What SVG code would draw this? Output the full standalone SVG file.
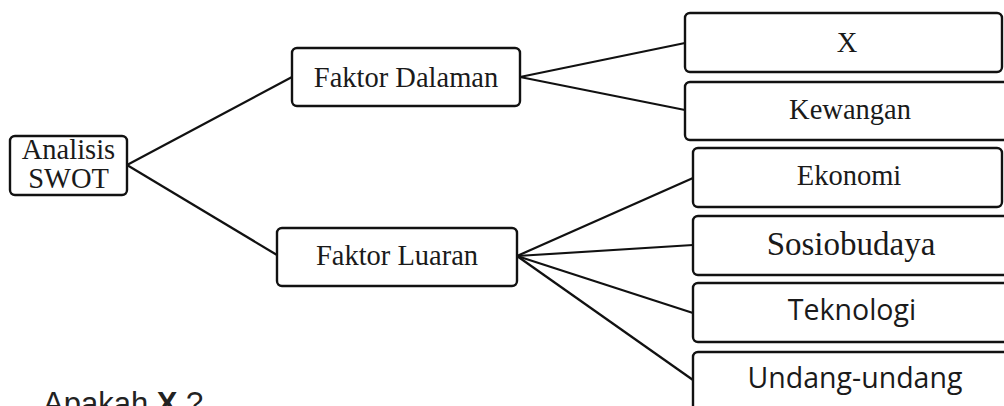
<svg xmlns="http://www.w3.org/2000/svg" width="1004" height="406" viewBox="0 0 1004 406">
<style>
.box{fill:#fff;stroke:#111;stroke-width:2.4}
.ln{stroke:#111;stroke-width:2.2;fill:none}
.tm{font-family:"Liberation Serif","Times New Roman",serif;font-size:28.5px;fill:#1a1a1a;text-anchor:middle}
.sv{font-family:"Liberation Serif",serif;font-size:33px;fill:#1a1a1a;text-anchor:middle}
.sn{font-family:"Open Sans","Liberation Sans",sans-serif;font-size:28.5px;fill:#1a1a1a;text-anchor:middle}
.q{font-family:"Liberation Sans",Arial,sans-serif;font-size:31px;fill:#222}
</style>
<rect width="1004" height="406" fill="#fff"/>
<g id="connectors">
<line class="ln" x1="127" y1="165" x2="292" y2="77"/>
<line class="ln" x1="127" y1="165" x2="277" y2="255"/>
<line class="ln" x1="520" y1="77" x2="685" y2="43"/>
<line class="ln" x1="520" y1="77" x2="685" y2="110"/>
<line class="ln" x1="517" y1="256" x2="693" y2="178"/>
<line class="ln" x1="517" y1="256" x2="693" y2="245"/>
<line class="ln" x1="517" y1="256" x2="693" y2="313"/>
<line class="ln" x1="517" y1="256" x2="693" y2="380"/>
</g>
<g id="analisis">
<rect class="box" x="10" y="136" width="117" height="59" rx="5"/>
<text class="tm" x="68.5" y="159">Analisis</text>
<text class="tm" x="68.5" y="188">SWOT</text>
</g>
<g id="dalaman">
<rect class="box" x="292" y="48" width="228" height="58" rx="5"/>
<text class="tm" x="406" y="87">Faktor Dalaman</text>
</g>
<g id="luaran">
<rect class="box" x="277" y="228" width="240" height="58" rx="5"/>
<text class="tm" x="397" y="265">Faktor Luaran</text>
</g>
<g id="x">
<rect class="box" x="685" y="13" width="317" height="59" rx="5"/>
<text class="tm" x="847" y="52">X</text>
</g>
<g id="kewangan">
<rect class="box" x="685" y="82" width="325" height="58" rx="5"/>
<text class="tm" x="850" y="119">Kewangan</text>
</g>
<g id="ekonomi">
<rect class="box" x="693" y="148" width="309" height="59" rx="5"/>
<text class="tm" x="849" y="185">Ekonomi</text>
</g>
<g id="sosiobudaya">
<rect class="box" x="693" y="216" width="320" height="59" rx="5"/>
<text class="sv" x="851" y="255">Sosiobudaya</text>
</g>
<g id="teknologi">
<rect class="box" x="693" y="283" width="320" height="59" rx="5"/>
<text class="sn" x="852" y="320">Teknologi</text>
</g>
<g id="undang">
<rect class="box" x="693" y="352" width="320" height="70" rx="5"/>
<text class="sn" x="855" y="388">Undang-undang</text>
</g>
<text class="q" x="43" y="414">Apakah <tspan font-weight="bold">X</tspan> ?</text>
</svg>
